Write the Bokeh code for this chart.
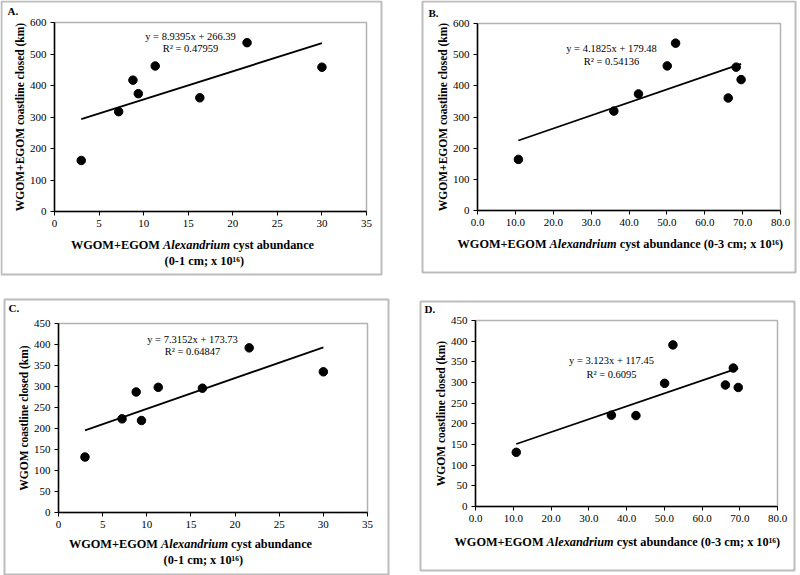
from bokeh.plotting import figure
from bokeh.models import (Label, SingleIntervalTicker, NumeralTickFormatter, Range1d,
                          LinearAxis, BoxAnnotation)
from bokeh.embed import file_html
from bokeh.resources import INLINE

# ---------------- data ----------------
cyst_0_1cm = [3.0, 7.2, 8.8, 9.4, 11.3, 16.3, 21.6, 30.0]
cyst_0_3cm = [10.8, 36.0, 42.5, 50.1, 52.3, 66.2, 68.3, 69.6]
closed_all_vs_0_1 = [162, 317, 417, 374, 462, 361, 536, 458]
closed_all_vs_0_3 = [164, 319, 374, 464, 537, 361, 460, 420]
closed_wgom_vs_0_1 = [132, 223, 287, 219, 298, 296, 392, 335]
closed_wgom_vs_0_3 = [131, 221, 220, 298, 391, 294, 335, 288]

fit_A = (8.9395, 266.39)
fit_B = (4.1825, 179.48)
fit_C = (7.3152, 173.73)
fit_D = (3.123, 117.45)

eq_A = ["y = 8.9395x + 266.39", "R\u00b2 = 0.47959"]
eq_B = ["y = 4.1825x + 179.48", "R\u00b2 = 0.54136"]
eq_C = ["y = 7.3152x + 173.73", "R\u00b2 = 0.64847"]
eq_D = ["y = 3.123x + 117.45", "R\u00b2 = 0.6095"]

ylabel_all = "WGOM+EGOM coastline closed (km)"
ylabel_wgom = "WGOM coastline closed (km)"
xl_part1 = "WGOM+EGOM"
xl_part2 = "Alexandrium"
xl_part3_short = "cyst abundance"
xl_line2_01 = "(0-1 cm; x 10\u00b9\u2076)"
xl_part3_long = "cyst abundance (0-3 cm; x 10\u00b9\u2076)"

SERIF = "Liberation Serif"

# ---------------- page geometry (page pixels; canvas starts at 0,0) ----------------
OX, OY = 0, 0
CW, CH = 800, 575
PX0, PX1 = OX, OX + CW
PY0, PY1 = OY, OY + CH

p = figure(width=CW, height=CH, output_backend="svg", toolbar_location=None,
           x_axis_type=None, y_axis_type=None,
           x_range=Range1d(PX0, PX1), y_range=Range1d(PY1, PY0),
           min_border=0, min_border_left=0, min_border_right=0,
           min_border_top=0, min_border_bottom=0,
           background_fill_color="white", border_fill_color="white")
p.outline_line_color = None
p.xgrid.visible = False
p.ygrid.visible = False


def lin_range(f0, f1, d0, d1, c0, c1):
    k = (f1 - f0) / (d1 - d0)
    return Range1d(d0 - (f0 - c0) / k, d1 + (c1 - f1) / k)


def composite(parts, cx, cy, size):
    total = sum(wd for _, wd, _ in parts) * size + 0.25 * size * (len(parts) - 1)
    left = cx - total / 2
    for txt, wd, style in parts:
        p.add_layout(Label(x=left, y=cy, text=txt, text_font=SERIF, text_font_style=style,
                           text_font_size=f"{size}px", text_align="left",
                           text_baseline="middle", text_color="black"))
        left += wd * size + 0.25 * size


def panel(name, tag, tag_xy, box, frame, xs, ys, fit, eq, eq_xy, xmax, xint, xfmt,
          ymax, yint, ylabel, xlabel_lines):
    fl, ft, fr, fb = frame
    xr, yr = "x" + name, "y" + name
    p.extra_x_ranges[xr] = lin_range(fl, fr, 0, xmax, PX0, PX1)
    # page y grows downward, data grows upward
    ky = (fb - ft) / ymax
    p.extra_y_ranges[yr] = Range1d(0 - (PY1 - fb) / ky, ymax + (ft - PY0) / ky)

    # outer panel box
    bl, bt, br, bb = box
    p.add_layout(BoxAnnotation(left=bl, right=br, top=bt, bottom=bb, fill_color=None,
                               line_color="#222222", line_width=2, level="underlay"))
    # plot-area frame
    p.add_layout(BoxAnnotation(left=0, right=xmax, bottom=0, top=ymax,
                               x_range_name=xr, y_range_name=yr, fill_color=None,
                               line_color="black", line_width=1.5))

    xa = LinearAxis(x_range_name=xr, y_range_name=yr, fixed_location=0, bounds=(0, xmax),
                    ticker=SingleIntervalTicker(interval=xint),
                    formatter=NumeralTickFormatter(format=xfmt))
    ya = LinearAxis(x_range_name=xr, y_range_name=yr, fixed_location=0, bounds=(0, ymax),
                    ticker=SingleIntervalTicker(interval=yint), axis_label=ylabel)
    for ax in (xa, ya):
        ax.axis_line_color = "black"
        ax.axis_line_width = 1.5
        ax.major_tick_out = 4
        ax.major_tick_in = 0
        ax.minor_tick_out = 0
        ax.minor_tick_in = 0
        ax.major_tick_line_color = "black"
        ax.major_label_text_font = SERIF
        ax.major_label_text_font_size = "11px"
        ax.major_label_text_color = "black"
        ax.major_label_standoff = 4
    ya.axis_label_text_font = SERIF
    ya.axis_label_text_font_style = "bold"
    ya.axis_label_text_font_size = "11.5px"
    ya.axis_label_text_color = "black"
    ya.axis_label_standoff = 1
    p.add_layout(xa, "below")
    p.add_layout(ya, "left")

    slope, icpt = fit
    x0, x1 = min(xs), max(xs)
    p.line([x0, x1], [slope * x0 + icpt, slope * x1 + icpt], line_color="black",
           line_width=1.8, x_range_name=xr, y_range_name=yr)
    p.scatter(xs, ys, size=8.5, fill_color="black", line_color="black",
              x_range_name=xr, y_range_name=yr)

    (ex, ey1, ey2) = eq_xy
    for txt, yy in zip(eq, (ey1, ey2)):
        p.add_layout(Label(x=ex, y=yy, text=txt, text_font=SERIF, text_font_size="10.5px",
                           text_align="center", text_baseline="middle", text_color="black"))

    p.add_layout(Label(x=tag_xy[0], y=tag_xy[1], text=tag, text_font=SERIF,
                       text_font_style="bold", text_font_size="11px", text_align="left",
                       text_baseline="middle", text_color="black"))

    for parts, cx, cy in xlabel_lines:
        composite(parts, cx, cy, 12.3)


# em widths (Times metrics) for placing the mixed-style title pieces
W1, W2, W3s, W3l, WL2 = 7.237, 5.446, 6.584, 12.993, 6.159
line1_short = [(xl_part1, W1, "bold"), (xl_part2, W2, "bold italic"), (xl_part3_short, W3s, "bold")]
line_long = [(xl_part1, W1, "bold"), (xl_part2, W2, "bold italic"), (xl_part3_long, W3l, "bold")]
line2 = [(xl_line2_01, WL2, "bold")]

panel("A", "A.", (7, 10), (1, 1, 381, 274), (54, 22, 366, 211),
      cyst_0_1cm, closed_all_vs_0_1, fit_A, eq_A, (190, 36, 48),
      35, 5, "0", 600, 100, ylabel_all,
      [(line1_short, 192, 244), (line2, 202, 260)])
panel("B", "B.", (428, 12), (422, 1, 795, 272), (477, 23, 780, 210),
      cyst_0_3cm, closed_all_vs_0_3, fit_B, eq_B, (611, 48, 61),
      80, 10, "0.0", 600, 100, ylabel_all,
      [(line_long, 618, 243)])
panel("C", "C.", (8, 307), (4, 299, 388, 574), (58, 323, 367, 512),
      cyst_0_1cm, closed_wgom_vs_0_1, fit_C, eq_C, (192, 339, 351),
      35, 5, "0", 450, 50, ylabel_wgom,
      [(line1_short, 190, 543), (line2, 201, 559)])
panel("D", "D.", (424, 308), (420, 301, 794, 570), (475, 320, 777, 506),
      cyst_0_3cm, closed_wgom_vs_0_3, fit_D, eq_D, (611, 360, 374),
      80, 10, "0.0", 450, 50, ylabel_wgom,
      [(line_long, 615, 541)])

open("out.html", "w").write(file_html(p, INLINE))
